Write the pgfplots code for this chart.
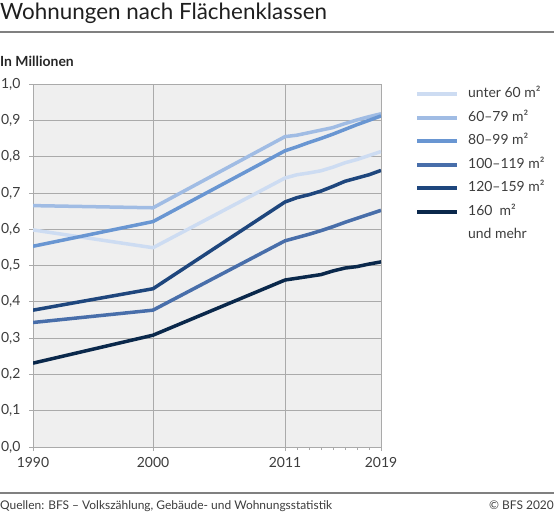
\documentclass[border=0pt]{standalone}
\usepackage{pgfplots}
\pgfplotsset{compat=1.18}
\usepackage{pgfplotstable}
\usepackage{fontspec}
\setmainfont{Lato}

\definecolor{cA}{RGB}{205,220,242}
\definecolor{cB}{RGB}{160,188,228}
\definecolor{cC}{RGB}{105,150,210}
\definecolor{cD}{RGB}{72,110,170}
\definecolor{cE}{RGB}{30,70,125}
\definecolor{cF}{RGB}{10,40,75}
\definecolor{bggray}{RGB}{239,239,239}
\definecolor{gridgray}{RGB}{170,170,170}
\definecolor{txt}{RGB}{60,60,60}

% Wohnungen in Millionen
\pgfplotstableread{
year  u60    a6079  a8099  a100   a120   a160
1990  0.598  0.665  0.553  0.343  0.377  0.231
2000  0.549  0.659  0.621  0.377  0.436  0.308
2011  0.741  0.855  0.816  0.568  0.675  0.460
2012  0.750  0.859  0.827  0.577  0.687  0.465
2013  0.755  0.866  0.839  0.586  0.695  0.470
2014  0.761  0.873  0.850  0.596  0.705  0.475
2015  0.771  0.880  0.862  0.607  0.718  0.485
2016  0.783  0.891  0.875  0.619  0.732  0.493
2017  0.792  0.901  0.888  0.630  0.741  0.497
2018  0.803  0.910  0.900  0.641  0.750  0.504
2019  0.814  0.918  0.912  0.652  0.762  0.510
}\wohnungen

\begin{document}
\begin{tikzpicture}
\path[use as bounding box] (0bp,0bp) rectangle (554bp,-519bp);

\node[anchor=base west, inner sep=0, font=\fontsize{22.5}{26}\selectfont, text=black!88] at (0bp,-19bp) {Wohnungen nach Flächenklassen};
\draw[gray, line width=1.5bp] (0bp,-32bp) -- (554bp,-32bp);
\node[anchor=base west, inner sep=0, font=\fontsize{14}{16}\selectfont\bfseries, text=black!85] at (0bp,-66bp) {In Millionen};

\begin{axis}[
    at={(33bp,-447bp)}, anchor=south west,
    scale only axis, width=348bp, height=363bp,
    xmin=1990, xmax=2019, ymin=0, ymax=1,
    xtick={1990,2000,2011,2019},
    xticklabels={1990,2000,2011,2019},
    minor xtick={2012,2013,2014,2015,2016,2017,2018},
    ytick={0,0.1,0.2,0.3,0.4,0.5,0.6,0.7,0.8,0.9,1},
    yticklabel style={xshift=-5bp, /pgf/number format/.cd, fixed, fixed zerofill, precision=1, use comma, assume math mode=true},
    xticklabel style={yshift=-3bp},
    tick label style={font=\fontsize{14}{16}\selectfont, text=txt},
    tick align=outside, tick pos=left,
    major tick length=4bp, minor tick length=3bp,
    tick style={gridgray, line width=0.8bp},
    xmajorgrids, ymajorgrids,
    major grid style={gridgray, line width=0.8bp},
    axis line style={gridgray, line width=0.8bp},
    axis background/.style={fill=bggray},
    legend style={at={(1.089,0.9945)}, anchor=north west, draw=none, fill=none,
        font=\fontsize{14}{16}\selectfont, text=txt, row sep=11.5bp, column sep=9bp,
        nodes={inner sep=0, text height=9.5bp, text depth=2.5bp}},
    legend cell align=left,
    legend image code/.code={\draw[#1, line width=4bp] (0bp,0bp) -- (40bp,0bp);},
    every axis plot/.append style={line width=3.5bp, line join=round},
]
\addplot[cA] table[x=year, y=u60] {\wohnungen};
\addlegendentry{unter 60 m²}
\addplot[cB] table[x=year, y=a6079] {\wohnungen};
\addlegendentry{60–79 m²}
\addplot[cC] table[x=year, y=a8099] {\wohnungen};
\addlegendentry{80–99 m²}
\addplot[cD] table[x=year, y=a100] {\wohnungen};
\addlegendentry{100–119 m²}
\addplot[cE] table[x=year, y=a120] {\wohnungen};
\addlegendentry{120–159 m²}
\addplot[cF] table[x=year, y=a160] {\wohnungen};
\addlegendentry{160\ \ m²}
\addlegendimage{empty legend}
\addlegendentry{und mehr}
\end{axis}

\draw[gray, line width=1.5bp] (0bp,-493bp) -- (554bp,-493bp);
\node[anchor=base west, inner sep=0, font=\fontsize{12}{14}\selectfont, text=txt] at (0bp,-509bp) {Quellen: BFS – Volkszählung, Gebäude- und Wohnungsstatistik};
\node[anchor=base east, inner sep=0, font=\fontsize{12}{14}\selectfont, text=txt] at (554bp,-509bp) {© BFS 2020};
\end{tikzpicture}
\end{document}
